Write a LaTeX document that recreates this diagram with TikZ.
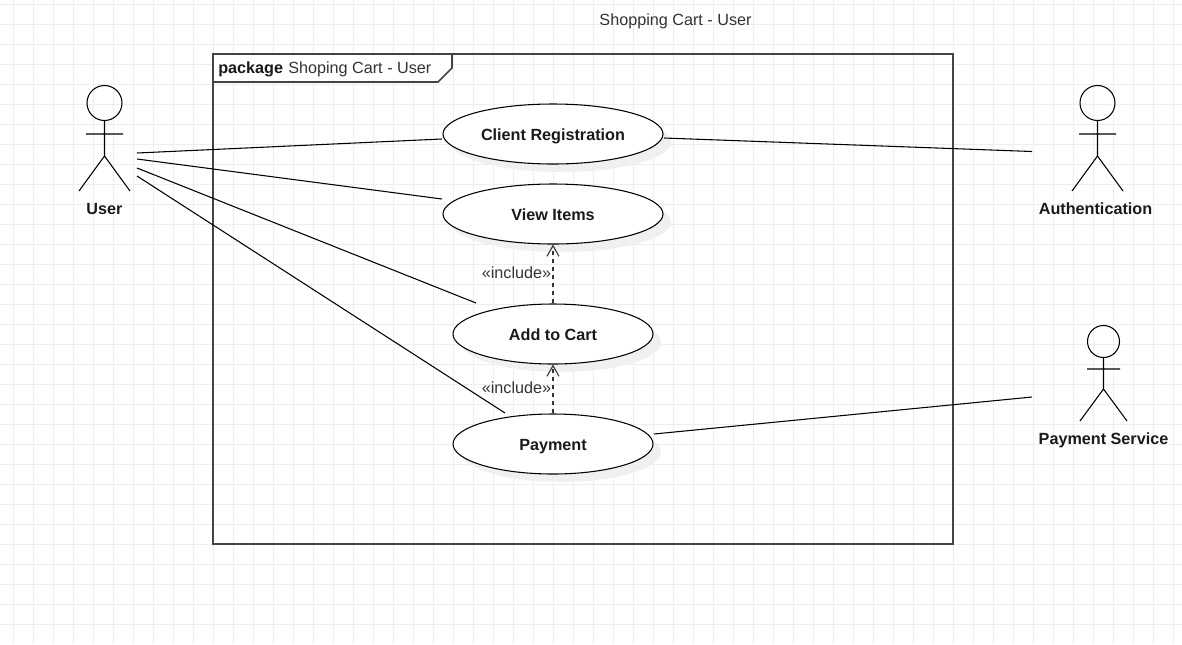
\documentclass[tikz,border=0pt,12pt]{standalone}
\usepackage{fontspec}
\setmainfont[Scale=1.012]{Liberation Sans}
\usepackage{xcolor}
\usetikzlibrary{calc, arrows.meta, shapes.geometric, shadows}

\definecolor{gridline}{HTML}{EEEEEE}
\definecolor{framegray}{HTML}{444444}
\definecolor{textgray}{HTML}{1A1A1A}
\definecolor{labelgray}{HTML}{333333}

\tikzset{
    usecase/.style={ellipse, draw, fill=white, line width=0.8pt, minimum height=45pt, inner sep=0pt,
        text height=11pt, text depth=2pt,
        font=\bfseries, text=textgray, general shadow={fill=black!6, shadow xshift=6pt, shadow yshift=-6pt}},
    assoc/.style={line width=0.8pt},
    includes/.style={line width=0.8pt, draw=labelgray, dash pattern=on 3pt off 3pt, -{Straight Barb[length=8pt, width=9pt, line width=0.8pt]}},
    stickman/.style={line width=0.8pt},
    actorname/.style={anchor=base, font=\bfseries, text=textgray},
    plain/.style={text=labelgray}
}

\begin{document}
\begin{tikzpicture}[x=0.75pt, y=-0.75pt]
    \useasboundingbox (0,0) rectangle (1182,644);
    \fill[white] (0,0) rectangle (1182,644);

    % grid
    \foreach \gx in {13.5,33.5,...,1182} {
        \draw[gridline, line width=0.75pt] (\gx,0) -- (\gx,644);
    }
    \foreach \gy in {4.5,24.5,...,644} {
        \draw[gridline, line width=0.75pt] (0,\gy) -- (1182,\gy);
    }

    \node[plain, anchor=base] (title) at (675.5,25) {Shopping Cart - User};

    % package frame
    \draw[framegray, line width=1.2pt] (213,54) rectangle (953,544);
    \draw[framegray, line width=1.2pt, fill=white] (213,54) -- (452,54) -- (452,68) -- (438,82) -- (213,82) -- cycle;
    \node[anchor=base west, inner sep=0pt, text=textgray, font=\bfseries] (pkgkey) at (218,73) {package};
    \node[anchor=base west, inner sep=0pt, plain] (pkgname) at (288,73) {Shoping Cart - User};

    % use cases
    \node[usecase, minimum width=165pt] (regn) at (553,134) {Client Registration};
    \node[usecase, minimum width=165pt] (view) at (553,214) {View Items};
    \node[usecase, minimum width=150pt] (cart) at (553,334) {Add to Cart};
    \node[usecase, minimum width=150pt] (pay) at (553,444) {Payment};

    % actors
    \draw[stickman] (104.5,103) circle (17.5);
    \draw[stickman] (104.5,120.5) -- (104.5,156) -- (79,191) (104.5,156) -- (130,191) (86,134) -- (123,134);
    \node[actorname] (user) at (104.5,214) {User};

    \draw[stickman] (1097.5,103) circle (17.5);
    \draw[stickman] (1097.5,120.5) -- (1097.5,156) -- (1072,191) (1097.5,156) -- (1123,191) (1079,134) -- (1116,134);
    \node[actorname] (auth) at (1095.5,214) {Authentication};

    \draw[stickman] (1103.5,341.5) circle (16);
    \draw[stickman] (1103.5,357.5) -- (1103.5,389) -- (1080,421) (1103.5,389) -- (1127,421) (1087,369) -- (1120,369);
    \node[actorname] (paysvc) at (1103.5,444) {Payment Service};

    % free ends of the associations
    \coordinate (userA) at (137,153);
    \coordinate (userB) at (137,159);
    \coordinate (userC) at (137,168);
    \coordinate (userD) at (137,176);
    \coordinate (authIn) at (1032,151.5);
    \coordinate (payIn) at (1032,397);
    \coordinate (regnL) at ($(regn)+(-111,5)$);
    \coordinate (regnR) at ($(regn)+(111,4)$);
    \coordinate (viewL) at ($(view)+(-111,-15)$);
    \coordinate (cartL) at ($(cart)+(-77,-31)$);
    \coordinate (payL) at ($(pay)+(-48,-31)$);
    \coordinate (payR) at ($(pay)+(101,-10)$);

    \draw[assoc] (userA) -- (regnL);
    \draw[assoc] (userB) -- (viewL);
    \draw[assoc] (userC) -- (cartL);
    \draw[assoc] (userD) -- (payL);
    \draw[assoc] (regnR) -- (authIn);
    \draw[assoc] (payR) -- (payIn);

    \draw[includes] (cart.north) -- (view.south) node[pos=0.5, left=0pt, plain, inner sep=1pt, yshift=0.75pt] (inclA) {«include»};
    \draw[includes] (pay.north) -- (cart.south) node[pos=0.5, left=0pt, plain, inner sep=1pt, yshift=0.75pt] (inclB) {«include»};
\end{tikzpicture}
\end{document}
